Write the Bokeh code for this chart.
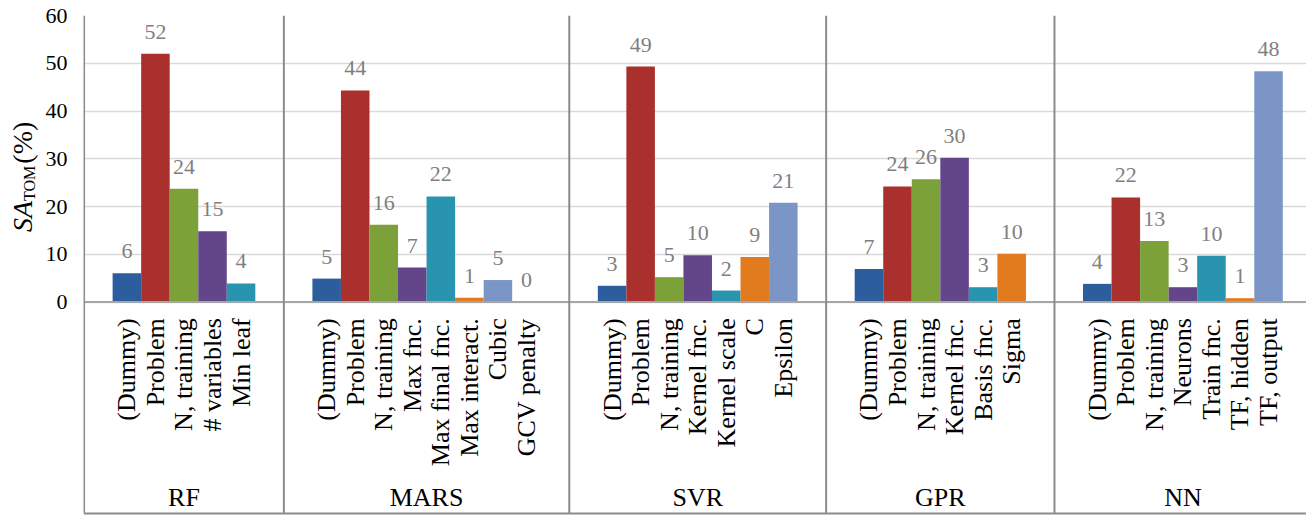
import math
from bokeh.plotting import figure
from bokeh.layouts import row
from bokeh.models import Range1d, FixedTicker, ColumnDataSource
from bokeh.core.properties import value
from bokeh.embed import file_html
from bokeh.resources import INLINE

# ---------------- data ----------------
groups = ["RF", "MARS", "SVR", "GPR", "NN"]

rf_params = ["(Dummy)", "Problem", "N, training", "# variables", "Min leaf"]
rf_values = [6.0, 52.0, 23.7, 14.8, 3.9]

mars_params = ["(Dummy)", "Problem", "N, training", "Max fnc.", "Max final fnc.",
               "Max interact.", "Cubic", "GCV penalty"]
mars_values = [4.9, 44.3, 16.2, 7.2, 22.1, 0.9, 4.6, 0.0]

svr_params = ["(Dummy)", "Problem", "N, training", "Kernel fnc.", "Kernel scale", "C", "Epsilon"]
svr_values = [3.4, 49.3, 5.2, 9.8, 2.4, 9.4, 20.8]

gpr_params = ["(Dummy)", "Problem", "N, training", "Kernel fnc.", "Basis fnc.", "Sigma"]
gpr_values = [6.9, 24.2, 25.7, 30.2, 3.1, 10.1]

nn_params = ["(Dummy)", "Problem", "N, training", "Neurons", "Train fnc.", "TF, hidden", "TF, output"]
nn_values = [3.8, 21.9, 12.8, 3.1, 9.7, 0.8, 48.3]

y_ticks = [0, 10, 20, 30, 40, 50, 60]

palette = ["#2C5D9C", "#A9302D", "#7DA139", "#624689", "#2994AF", "#E27A1E", "#7B96C6"]

# ---------------- layout helpers ----------------
all_params = [rf_params, mars_params, svr_params, gpr_params, nn_params]
all_values = [rf_values, mars_values, svr_values, gpr_values, nn_values]

GROUP_GAP = 2.0
EDGE_PAD = 1.0

xs, tops, cols, names, vlabels = [], [], [], [], []
seps, centers = [], []
cursor = EDGE_PAD
for gi, (params, vals) in enumerate(zip(all_params, all_values)):
    start = cursor
    for i, (nm, v) in enumerate(zip(params, vals)):
        xs.append(cursor + i + 0.5)
        tops.append(v)
        cols.append(palette[i % len(palette)])
        names.append(nm)
        vlabels.append(str(int(v + 0.5)))
    cursor += len(params)
    centers.append((start + cursor) / 2.0)
    if gi < len(all_params) - 1:
        seps.append(cursor + GROUP_GAP / 2.0)
        cursor += GROUP_GAP
x_end = cursor + EDGE_PAD

W, H = 1306, 515
TITLE_W = 40
LEFT = 83
Y_MAX = 60
Y_MIN = -44.71
SERIF = "Liberation Serif"

# ---------------- left strip with the y-axis title ----------------
t = figure(width=TITLE_W, height=H, output_backend="svg", toolbar_location=None,
           x_range=Range1d(0, TITLE_W), y_range=Range1d(0, H),
           x_axis_location=None, y_axis_location=None, min_border=0)
t.outline_line_color = None
t.grid.visible = False
title_parts = [("SA", 22, 207, "28px", "italic"),
               ("TOM", 29, 173, "16px", "normal"),
               ("(%)", 22, 131, "28px", "normal")]
for txt, cx, cy, fs, st in title_parts:
    t.text(x=[cx], y=[H - cy], text=[txt], angle=math.pi / 2, text_align="center",
           text_baseline="middle", text_font=value(SERIF), text_font_style=st,
           text_font_size=fs, text_color="#000000")

# ---------------- main chart ----------------
p = figure(width=W - TITLE_W, height=H, output_backend="svg", toolbar_location=None,
           x_range=Range1d(-0.02, x_end - 0.17), y_range=Range1d(Y_MIN, Y_MAX),
           x_axis_location=None, min_border_left=LEFT - TITLE_W, min_border_right=0,
           min_border_top=15, min_border_bottom=0)
p.outline_line_color = None

p.yaxis.ticker = FixedTicker(ticks=y_ticks)
p.yaxis.axis_line_color = None
p.yaxis.major_tick_line_color = None
p.yaxis.minor_tick_line_color = None
p.yaxis.major_tick_in = 0
p.yaxis.major_tick_out = 0
p.yaxis.major_label_standoff = 16
p.yaxis.major_label_text_font = SERIF
p.yaxis.major_label_text_font_size = "22px"
p.yaxis.major_label_text_color = "#000000"

p.xgrid.visible = False
p.ygrid.ticker = FixedTicker(ticks=y_ticks)
p.ygrid.grid_line_color = "#d9d9d9"
p.ygrid.grid_line_width = 1.5

src = ColumnDataSource(dict(x=xs, top=tops, color=cols, name=names, lab=vlabels))
p.vbar(x="x", top="top", bottom=0, width=1.0, fill_color="color", line_color=None, source=src)

p.text(x="x", y="top", text="lab", source=src, text_align="center", text_baseline="middle",
       y_offset=-22, text_font=value(SERIF), text_font_size="22px", text_color="#7f7f7f")

y_bottom_line = Y_MIN + 0.42
p.segment(x0=[0], y0=[0], x1=[x_end], y1=[0], line_color="#a6a6a6", line_width=2)
p.segment(x0=[0], y0=[y_bottom_line], x1=[x_end], y1=[y_bottom_line], line_color="#8c8c8c", line_width=2)
p.segment(x0=[0] + seps, y0=[y_bottom_line] * (len(seps) + 1),
          x1=[0] + seps, y1=[Y_MAX] * (len(seps) + 1), line_color="#8c8c8c", line_width=2)

p.text(x="x", y=-3.4, text="name", source=src, angle=math.pi / 2, text_align="right",
       text_baseline="middle", text_font=value(SERIF), text_font_size="26px",
       text_color="#000000")

p.text(x=centers, y=[-40.9] * len(centers), text=groups, text_align="center",
       text_baseline="middle", text_font=value(SERIF), text_font_size="26px",
       text_color="#000000")

layout = row(t, p, spacing=0)
open("out.html", "w").write(file_html(layout, INLINE))
